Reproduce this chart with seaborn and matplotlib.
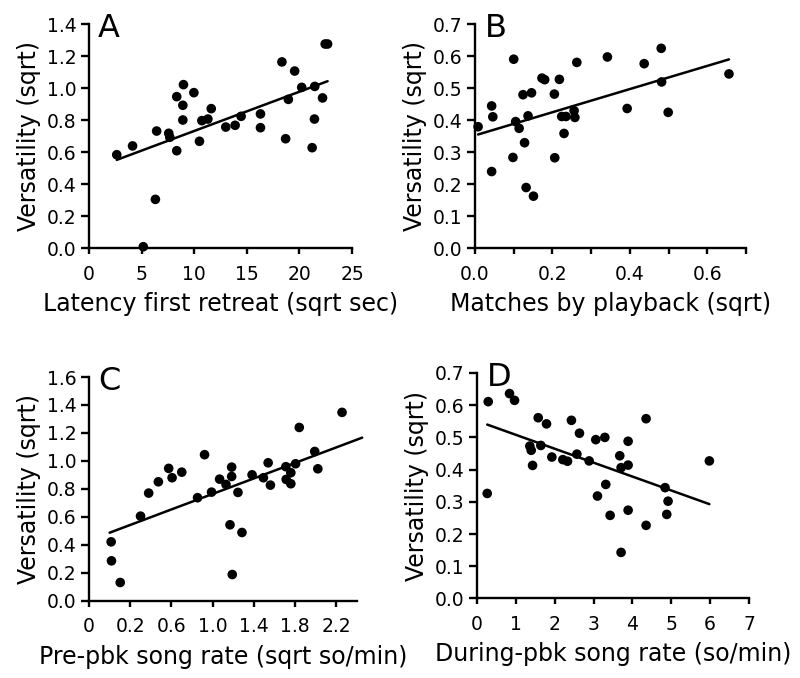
import numpy as np
import seaborn as sns
import matplotlib.pyplot as plt
from matplotlib.ticker import FormatStrFormatter

# --- dados ---
# A: latencia x versatilidade
a_x = [2.64, 4.14, 5.16, 6.31, 6.43, 7.58, 7.68, 8.34, 8.34, 8.92, 8.92, 8.98, 9.97,
       10.5, 10.73, 11.3, 11.62, 13.0, 13.89, 14.46, 16.3, 16.3, 18.34, 18.69, 18.95,
       19.55, 20.22, 21.21, 21.43, 21.46, 22.2, 22.45, 22.68]
a_y = [0.583, 0.638, 0.008, 0.304, 0.731, 0.717, 0.692, 0.608, 0.946, 0.892, 0.80, 1.021, 0.971,
       0.667, 0.796, 0.806, 0.871, 0.756, 0.767, 0.823, 0.838, 0.752, 1.163, 0.683, 0.929,
       1.106, 1.004, 0.627, 0.806, 1.01, 0.938, 1.275, 1.275]

# B: matches by playback
b_x = [0.008, 0.043, 0.046, 0.043, 0.10, 0.098, 0.105, 0.114, 0.124, 0.128, 0.137, 0.132,
       0.146, 0.151, 0.173, 0.180, 0.205, 0.206, 0.218, 0.224, 0.235, 0.230, 0.256, 0.258,
       0.263, 0.342, 0.393, 0.437, 0.481, 0.482, 0.499, 0.656]
b_y = [0.379, 0.444, 0.410, 0.239, 0.590, 0.283, 0.395, 0.374, 0.479, 0.329, 0.413, 0.189,
       0.485, 0.162, 0.531, 0.526, 0.481, 0.282, 0.527, 0.411, 0.411, 0.358, 0.429, 0.408,
       0.580, 0.597, 0.436, 0.576, 0.624, 0.519, 0.424, 0.544]

# C: pre-pbk song rate
c_x = [0.015, 0.018, 0.103, 0.30, 0.379, 0.473, 0.573, 0.606, 0.70, 0.853, 0.921, 0.989,
       1.067, 1.129, 1.168, 1.184, 1.184, 1.19, 1.245, 1.284, 1.382, 1.492, 1.538, 1.56,
       1.71, 1.713, 1.758, 1.758, 1.804, 1.84, 1.99, 2.02, 2.255]
c_y = [0.420, 0.284, 0.129, 0.604, 0.769, 0.850, 0.946, 0.879, 0.919, 0.736, 1.044, 0.776,
       0.869, 0.831, 0.542, 0.955, 0.888, 0.186, 0.774, 0.487, 0.900, 0.879, 0.986, 0.826,
       0.958, 0.867, 0.915, 0.836, 0.979, 1.239, 1.067, 0.943, 1.347]
c_fit_x = [0.0, 2.45]

# D: during-pbk song rate
d_x = [0.289, 0.263, 0.837, 0.966, 1.36, 1.395, 1.43, 1.575, 1.643, 1.789, 1.926, 2.209,
       2.329, 2.43, 2.57, 2.637, 2.886, 3.057, 3.10, 3.29, 3.314, 3.426, 3.674, 3.708,
       3.708, 3.889, 3.889, 3.889, 4.352, 4.352, 4.84, 4.917, 4.883, 5.98]
d_y = [0.611, 0.326, 0.636, 0.615, 0.473, 0.460, 0.413, 0.561, 0.475, 0.542, 0.439, 0.431,
       0.426, 0.553, 0.448, 0.513, 0.427, 0.493, 0.318, 0.500, 0.354, 0.258, 0.443, 0.406,
       0.143, 0.488, 0.414, 0.274, 0.558, 0.227, 0.344, 0.302, 0.261, 0.427]

a_xticks = [0, 5, 10, 15, 20, 25]
a_yticks = [0.0, 0.2, 0.4, 0.6, 0.8, 1.0, 1.2, 1.4]
b_xticks = [0.0, 0.1, 0.2, 0.3, 0.4, 0.5, 0.6, 0.7]
b_xlabels = ['0.0', '', '0.2', '', '0.4', '', '0.6', '']
b_yticks = [0.0, 0.1, 0.2, 0.3, 0.4, 0.5, 0.6, 0.7]
c_xticks = [-0.2, 0.2, 0.6, 1.0, 1.4, 1.8, 2.2]
c_xlabels = ['0', '0.2', '0.6', '1.0', '1.4', '1.8', '2.2']
c_yticks = [0.0, 0.2, 0.4, 0.6, 0.8, 1.0, 1.2, 1.4, 1.6]
d_xticks = [0, 1, 2, 3, 4, 5, 6, 7]
d_yticks = [0.0, 0.1, 0.2, 0.3, 0.4, 0.5, 0.6, 0.7]

sns.set_theme(style="ticks", rc={
    "axes.linewidth": 1.7,
    "xtick.major.width": 1.7, "ytick.major.width": 1.7,
    "xtick.major.size": 4, "ytick.major.size": 6,
    "xtick.color": "black", "ytick.color": "black",
    "text.color": "black", "axes.labelcolor": "black",
    "axes.edgecolor": "black",
})
plt.rcParams['font.family'] = ['DejaVu Sans']

fig = plt.figure(figsize=(8, 6.78), dpi=100)
rects = {
    'A': [0.11125, 0.6342, 0.32875, 0.3304],
    'B': [0.59375, 0.6342, 0.33875, 0.3304],
    'C': [0.11125, 0.1143, 0.335, 0.3296],
    'D': [0.59625, 0.1173, 0.34, 0.3326],
}


def painel(letra, x, y, fit_x, xlabel, xticks, xlabels, xlim, yticks):
    ax = fig.add_axes(rects[letra])
    sns.scatterplot(x=x, y=y, ax=ax, color='black', s=48, edgecolor='none',
                    clip_on=False, zorder=3)
    incl, icpt = np.polyfit(x, y, 1)
    fx = np.array(fit_x)
    sns.lineplot(x=fx, y=incl * fx + icpt, ax=ax, color='black', lw=1.8, clip_on=False)
    ax.set_xlim(*xlim)
    ax.set_ylim(yticks[0], yticks[-1])
    ax.set_xticks(xticks)
    ax.set_xticklabels(xlabels if xlabels else [str(t) for t in xticks])
    ax.set_yticks(yticks)
    ax.yaxis.set_major_formatter(FormatStrFormatter('%.1f'))
    ax.tick_params(axis='both', labelsize=13.5)
    ax.tick_params(axis='y', pad=3)
    ax.tick_params(axis='x', pad=8)
    ax.set_xlabel(xlabel, fontsize=17, labelpad=6)
    ax.set_ylabel('Versatility (sqrt)', fontsize=17, labelpad=4)
    sns.despine(ax=ax)
    ax.text(0.035, 0.978, letra, transform=ax.transAxes, fontsize=23,
            ha='left', va='center')
    return ax


painel('A', a_x, a_y, [min(a_x), max(a_x)], 'Latency first retreat (sqrt sec)',
       a_xticks, None, (0, 25), a_yticks)
painel('B', b_x, b_y, [min(b_x), max(b_x)], 'Matches by playback (sqrt)',
       b_xticks, b_xlabels, (0, 0.7), b_yticks)
painel('C', c_x, c_y, c_fit_x, 'Pre-pbk song rate (sqrt so/min)',
       c_xticks, c_xlabels, (-0.2, 2.4), c_yticks)
painel('D', d_x, d_y, [min(d_x), max(d_x)], 'During-pbk song rate (so/min)',
       d_xticks, None, (0, 7), d_yticks)

plt.savefig('out.png', dpi=100)
